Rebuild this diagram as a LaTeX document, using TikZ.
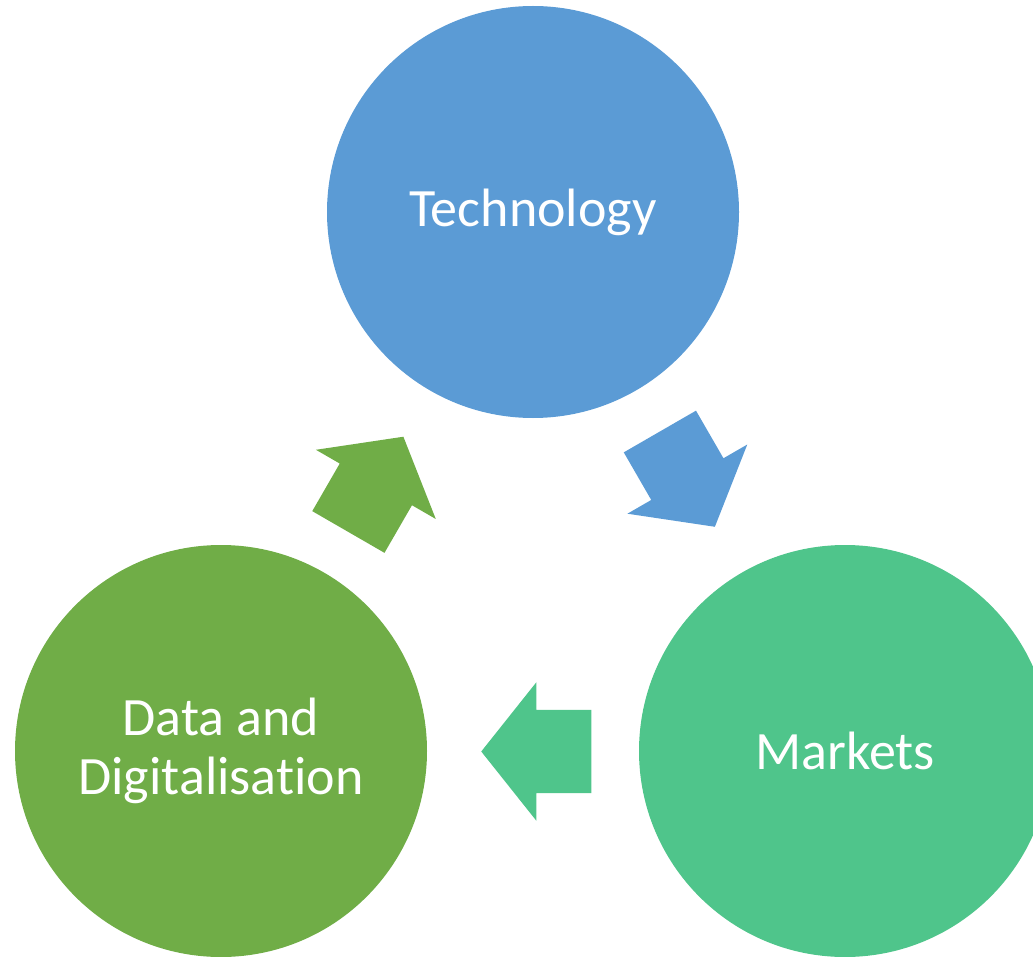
\documentclass[tikz,border=0pt]{standalone}
\usepackage{fontspec}
\setmainfont{Carlito}[RawFeature={-liga}]
\usepackage{tikz}
\usetikzlibrary{shapes,arrows,shapes.arrows,positioning}
\definecolor{techblue}{HTML}{5B9BD5}
\definecolor{datagreen}{HTML}{70AD47}
\definecolor{mktgreen}{HTML}{4FC58B}
\tikzstyle{bubble} = [circle, minimum size=412pt, inner sep=0pt, text=white, align=center, font=\fontsize{54}{59}\selectfont]
\tikzstyle{bigarrow} = [single arrow, minimum height=110pt, inner xsep=0pt, inner ysep=41.5pt, single arrow head extend=27.5pt, single arrow tip angle=103, anchor=tip]

\begin{document}
\begin{tikzpicture}[x=1pt, y=-1pt]
	\useasboundingbox (0,0) rectangle (1033,957);
	\node[bubble, fill=techblue] (tech) at (533,212) {Technology};
	\node[bubble, fill=mktgreen] (mkt) at (845,751) {Markets};
	\node[bubble, fill=datagreen] (data) at (221,751) {Data and\\Digitalisation};
	
	%arrows
	\node[bigarrow, fill=techblue, rotate=-60] (techtomkt) at (715,527) {};
	\node[bigarrow, fill=mktgreen, rotate=180] (mkttodata) at (481,751.5) {};
	\node[bigarrow, fill=datagreen, rotate=60] (datatotech) at (403.5,436.5) {};
	
\end{tikzpicture}
\end{document}
